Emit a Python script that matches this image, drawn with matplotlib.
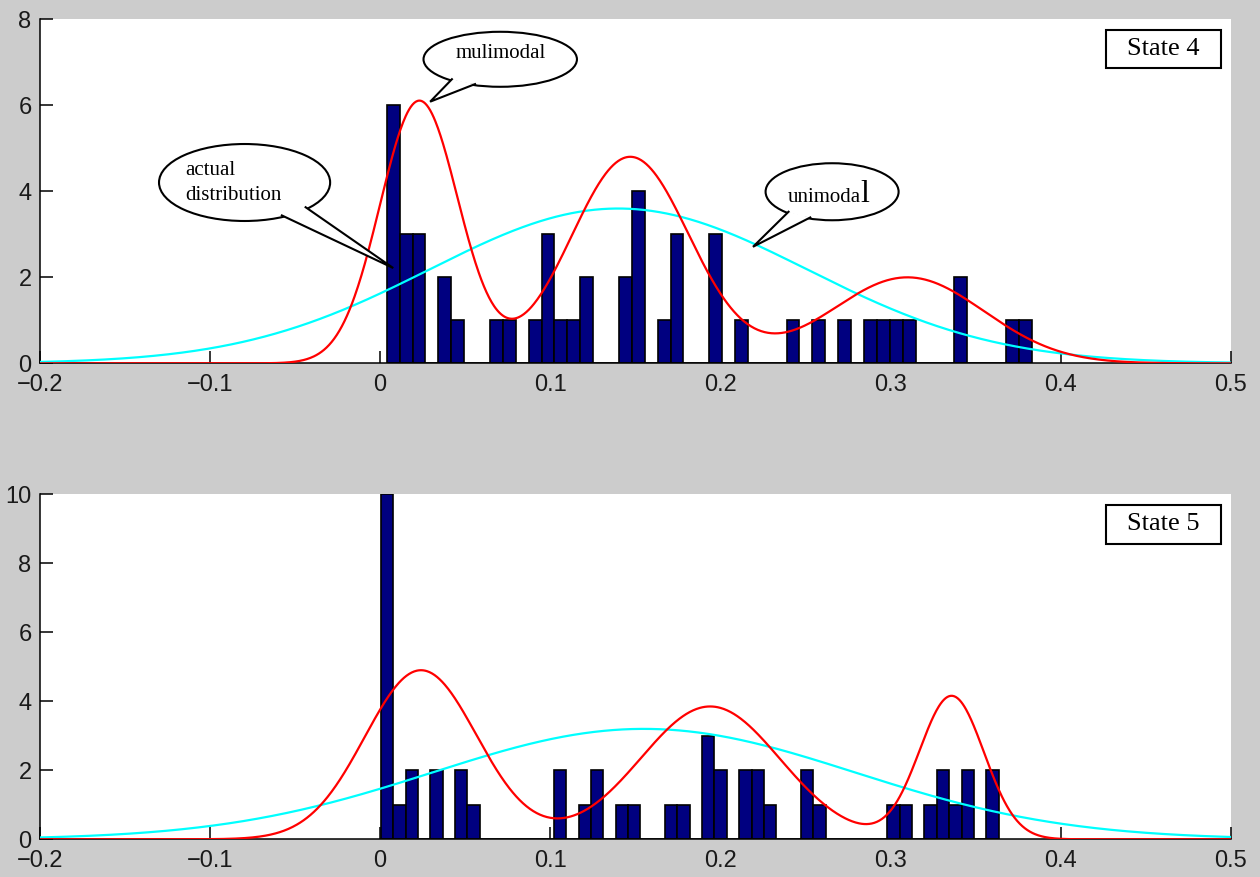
import numpy as np
import matplotlib
matplotlib.use("Agg")
import matplotlib.pyplot as plt
from matplotlib.patches import Ellipse, Polygon, Rectangle

# histogram counts (50 bins each, MATLAB hist style)
top_counts = [6, 3, 3, 0, 2, 1, 0, 0, 1, 1, 0, 1, 3, 1, 1, 2, 0, 0, 2, 4,
              0, 1, 3, 0, 0, 3, 0, 1, 0, 0, 0, 1, 0, 1, 0, 1, 0, 1, 1, 1,
              1, 0, 0, 0, 2, 0, 0, 0, 1, 1]
top_range = (0.0039, 0.3830)

bot_counts = [10, 1, 2, 0, 2, 0, 2, 1, 0, 0, 0, 0, 0, 0, 2, 0, 1, 2, 0, 1,
              1, 0, 0, 1, 1, 0, 3, 2, 0, 2, 2, 1, 0, 0, 2, 1, 0, 0, 0, 0,
              0, 1, 1, 0, 1, 2, 1, 2, 0, 2]
bot_range = (0.0004, 0.3636)

# fitted curves: gaussian parameters (amplitude, mean, sd)
top_uni = (3.6, 0.140, 0.111)
top_multi_amp = [6.1, 4.8, 2.0]
top_multi_mu = [0.023, 0.147, 0.310]
top_multi_sd = [0.023, 0.035, 0.045]

bot_uni = (3.2, 0.155, 0.124)
bot_multi_amp = [4.9, 3.85, 4.15]
bot_multi_mu = [0.024, 0.194, 0.336]
bot_multi_sd = [0.033, 0.041, 0.019]

xticks = [-0.2, -0.1, 0, 0.1, 0.2, 0.3, 0.4, 0.5]
xticklabels = ['\u22120.2', '\u22120.1', '0', '0.1', '0.2', '0.3', '0.4', '0.5']

SANS = 'Liberation Sans'
SERIF = 'Liberation Serif'


def gauss(x, a, m, s):
    return a * np.exp(-(x - m) ** 2 / (2 * s ** 2))


def draw_panel(ax, counts, rng, uni, amps, mus, sds, ymax, yticks, label):
    edges = np.linspace(rng[0], rng[1], len(counts) + 1)
    w = edges[1] - edges[0]
    ax.bar(edges[:-1], counts, width=w, align='edge', color='#000080',
           edgecolor='black', linewidth=1.2, zorder=2)
    x = np.linspace(-0.2, 0.5, 1401)
    ax.plot(x, gauss(x, *uni), color='#00ffff', lw=1.6, zorder=3)
    multi = sum(gauss(x, a, m, s) for a, m, s in zip(amps, mus, sds))
    ax.plot(x, multi, color='#ff0000', lw=1.6, zorder=4)

    ax.set_xlim(-0.2, 0.5)
    ax.set_ylim(0, ymax)
    ax.set_xticks(xticks)
    ax.set_xticklabels(xticklabels)
    ax.set_yticks(yticks)
    ax.set_yticklabels([str(t) for t in yticks])
    for s in ['top', 'right']:
        ax.spines[s].set_visible(False)
    for s in ['left', 'bottom']:
        ax.spines[s].set_linewidth(1.1)
    ax.tick_params(axis='x', direction='in', length=8.5, width=1.1, pad=8,
                   labelsize=17, labelcolor='#1a1a1a')
    ax.tick_params(axis='y', direction='in', length=9.5, width=1.1, pad=6,
                   labelsize=17, labelcolor='#1a1a1a')
    for t in ax.get_xticklabels() + ax.get_yticklabels():
        t.set_fontfamily(SANS)
    ax.set_axisbelow(True)

    # state label box
    ax.add_patch(Rectangle((0.8953, 0.857), 0.0962, 0.112, transform=ax.transAxes,
                           facecolor='white', edgecolor='black', lw=1.5, zorder=6))
    ax.text(0.943, 0.913, label, transform=ax.transAxes, ha='center', va='center',
            fontsize=19, family=SERIF, zorder=7)


def bubble(ax, cx, cy, w, h, t1, t2, tip):
    ax.add_patch(Ellipse((cx, cy), w, h, facecolor='white', edgecolor='black',
                         lw=1.5, zorder=8, clip_on=False))
    r = 0.96
    b1 = (cx + r * w / 2 * np.cos(np.radians(t1)), cy + r * h / 2 * np.sin(np.radians(t1)))
    b2 = (cx + r * w / 2 * np.cos(np.radians(t2)), cy + r * h / 2 * np.sin(np.radians(t2)))
    ax.add_patch(Polygon([b1, tip, b2], closed=True, facecolor='white',
                         edgecolor='none', zorder=9, clip_on=False))
    ax.plot([b1[0], tip[0], b2[0]], [b1[1], tip[1], b2[1]], color='black',
            lw=1.5, zorder=10, clip_on=False, solid_joinstyle='miter')


fig = plt.figure(figsize=(12.6, 8.77), dpi=100)
fig.patch.set_facecolor('#cccccc')

ax1 = fig.add_axes([0.0317, 0.5857, 0.9450, 0.3923])
draw_panel(ax1, top_counts, top_range, top_uni, top_multi_amp, top_multi_mu,
           top_multi_sd, 8, [0, 2, 4, 6, 8], 'State 4')

ax2 = fig.add_axes([0.0317, 0.0430, 0.9450, 0.3934])
draw_panel(ax2, bot_counts, bot_range, bot_uni, bot_multi_amp, bot_multi_mu,
           bot_multi_sd, 10, [0, 2, 4, 6, 8, 10], 'State 5')

# callouts on the top panel
bubble(ax1, 0.0706, 7.07, 0.0902, 1.279, 229, 250, (0.0294, 6.084))
ax1.text(0.0711, 7.21, 'mulimodal', ha='center', va='center', fontsize=15,
         family=SERIF, zorder=11)

bubble(ax1, -0.0797, 4.205, 0.1006, 1.79, 318, 297, (0.0077, 2.216))
ax1.text(-0.1147, 4.495, 'actual', ha='left', va='center', fontsize=15,
         family=SERIF, zorder=11)
ax1.text(-0.1147, 3.914, 'distribution', ha='left', va='center', fontsize=15,
         family=SERIF, zorder=11)

bubble(ax1, 0.2657, 3.99, 0.0782, 1.326, 227, 250, (0.2192, 2.71))
ax1.text(0.2824, 3.758, 'unimoda', ha='right', va='baseline', fontsize=15,
         family=SERIF, zorder=11)
ax1.text(0.2826, 3.758, 'l', ha='left', va='baseline', fontsize=23,
         family=SERIF, zorder=11)

fig.savefig('out.png', dpi=100, facecolor=fig.get_facecolor())
